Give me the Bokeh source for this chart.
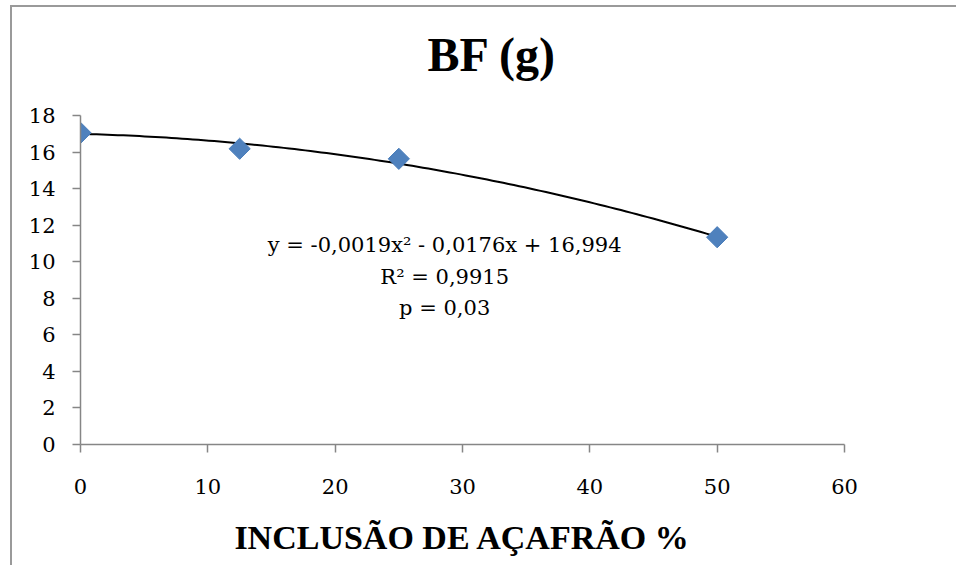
import numpy as np
from bokeh.plotting import figure
from bokeh.models import ColumnDataSource, Label, Range1d, FixedTicker, Title
from bokeh.embed import file_html
from bokeh.resources import INLINE

# Observed means of BF (g) by saffron inclusion level (%)
inclusion = [0, 12.5, 25, 50]
bf_grams = [17.05, 16.18, 15.63, 11.34]

# Quadratic trend reported on the chart
coef_a, coef_b, coef_c = -0.0019, -0.0176, 16.994
equation_lines = ["y = -0,0019x² - 0,0176x + 16,994", "R² = 0,9915", "p = 0,03"]

x_ticks = [0, 10, 20, 30, 40, 50, 60]
y_ticks = [0, 2, 4, 6, 8, 10, 12, 14, 16, 18]

title_text = "BF (g)"
x_title = "INCLUSÃO DE AÇAFRÃO %"

AXIS_GRAY = "#868686"
MARKER_BLUE = "#4F81BD"

p = figure(
    width=946, height=560,
    x_range=Range1d(0, 60), y_range=Range1d(0, 18),
    output_backend="svg", toolbar_location=None,
    min_border_left=68, min_border_right=114,
    min_border_top=108, min_border_bottom=123,
    background_fill_color="white", border_fill_color="white",
)
# chart-area frame: grey rule along the left and top edges
p.margin = (7, 0, 0, 12)
p.styles = {"box-shadow": "-2px -2px 0px 0px #9a9a9a"}
p.outline_line_color = None
p.grid.visible = False

# main title, lifted clear of the plot area by a blank spacer row
p.title.text = title_text
p.title.align = "left"
p.title.offset = 347
p.title.vertical_align = "bottom"
p.title.standoff = 0
p.title.text_font = "Liberation Serif"
p.title.text_font_style = "bold"
p.title.text_font_size = "48px"
p.title.text_color = "black"
p.add_layout(Title(text=" ", text_font_size="30px", standoff=0), "above")

for ax in (p.xaxis[0], p.yaxis[0]):
    ax.axis_line_color = AXIS_GRAY
    ax.axis_line_width = 1.5
    ax.major_tick_line_color = AXIS_GRAY
    ax.major_tick_line_width = 1.5
    ax.major_tick_in = 0
    ax.major_tick_out = 8
    ax.minor_tick_line_color = None
    ax.major_label_text_font = "DejaVu Serif"
    ax.major_label_text_font_size = "21px"
    ax.major_label_text_color = "black"

p.xaxis.ticker = FixedTicker(ticks=x_ticks)
p.yaxis.ticker = FixedTicker(ticks=y_ticks)
p.xaxis.major_label_standoff = 26
p.yaxis.major_label_standoff = 17

p.xaxis.axis_label = x_title
p.xaxis.axis_label_standoff = 22
p.xaxis.axis_label_text_font = "Liberation Serif"
p.xaxis.axis_label_text_font_style = "bold"
p.xaxis.axis_label_text_font_size = "34px"
p.xaxis.axis_label_text_color = "black"

# Fitted quadratic trend over the tested range
xs = np.linspace(min(inclusion), max(inclusion), 120)
ys = coef_a * xs ** 2 + coef_b * xs + coef_c
p.line(xs, ys, line_color="black", line_width=2)

src = ColumnDataSource(dict(x=inclusion, y=bf_grams))
p.scatter("x", "y", source=src, marker="square", size=15, angle=np.pi / 4,
          fill_color=MARKER_BLUE, line_color="#4A7EBB", line_width=1)

# Regression annotation
for line, ypos in zip(equation_lines, [10.89, 9.19, 7.49]):
    p.add_layout(Label(x=28.6, y=ypos, text=line, text_align="center",
                       text_baseline="middle", text_font="DejaVu Serif",
                       text_font_size="21px", text_color="black"))

open("out.html", "w").write(file_html(p, INLINE))
